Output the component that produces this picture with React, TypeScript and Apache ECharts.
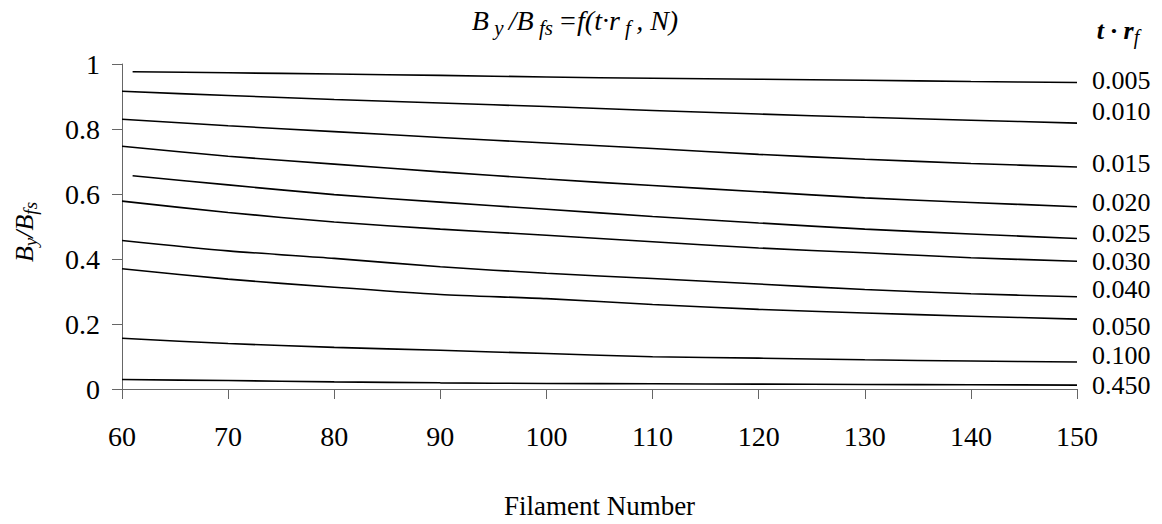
import React, { useEffect, useRef } from "react";
import * as echarts from "echarts";

// Filament number (x) values
const filamentN = [60, 70, 80, 90, 100, 110, 120, 130, 140, 150];
const filamentNLate = [61, 70, 80, 90, 100, 110, 120, 130, 140, 150];

// t·r_f series names
const seriesNames = ["0.005", "0.010", "0.015", "0.020", "0.025", "0.030", "0.040", "0.050", "0.100", "0.450"];

// By/Bfs values per series
const s005 = [0.976, 0.973, 0.969, 0.965, 0.960, 0.956, 0.953, 0.950, 0.946, 0.943];
const s010 = [0.916, 0.903, 0.891, 0.880, 0.869, 0.857, 0.846, 0.836, 0.827, 0.818];
const s015 = [0.830, 0.810, 0.792, 0.774, 0.757, 0.740, 0.722, 0.707, 0.694, 0.683];
const s020 = [0.747, 0.716, 0.692, 0.668, 0.646, 0.626, 0.607, 0.588, 0.574, 0.561];
const s025 = [0.656, 0.628, 0.598, 0.575, 0.553, 0.531, 0.511, 0.492, 0.477, 0.463];
const s030 = [0.578, 0.543, 0.514, 0.492, 0.473, 0.453, 0.434, 0.419, 0.404, 0.393];
const s040 = [0.457, 0.425, 0.402, 0.376, 0.356, 0.340, 0.323, 0.306, 0.293, 0.284];
const s050 = [0.370, 0.338, 0.313, 0.291, 0.278, 0.260, 0.245, 0.234, 0.224, 0.215];
const s100 = [0.156, 0.140, 0.128, 0.119, 0.109, 0.099, 0.095, 0.090, 0.086, 0.083];
const s450 = [0.029, 0.026, 0.022, 0.019, 0.017, 0.016, 0.015, 0.014, 0.013, 0.012];

const seriesValues = [s005, s010, s015, s020, s025, s030, s040, s050, s100, s450];
const seriesX = [filamentNLate, filamentN, filamentN, filamentN, filamentNLate, filamentN, filamentN, filamentN, filamentN, filamentN];

// Layout of the right-hand labels (pixel centre lines)
const labelYs = [80, 111, 163, 202, 233, 261, 289, 326, 355, 385];

const FONT = "Liberation Serif, Tinos, Times New Roman, serif";

export default function App() {
  const ref = useRef<HTMLDivElement>(null);

  useEffect(() => {
    if (!ref.current) return;
    const chart = echarts.init(ref.current, undefined, { renderer: "svg" });

    const series = seriesValues.map((vals, i) => ({
      type: "line",
      name: seriesNames[i],
      data: vals.map((v, j) => [seriesX[i][j], v]),
      smooth: 0.25,
      showSymbol: false,
      symbol: "none",
      lineStyle: { color: "#000", width: 1.6 },
      silent: true,
    }));

    const labelGraphics = seriesNames.map((n, i) => ({
      type: "text",
      x: 1092,
      y: labelYs[i],
      style: {
        text: n,
        fontFamily: FONT,
        fontSize: 26,
        fill: "#000",
        align: "left",
        verticalAlign: "middle",
      },
    }));

    chart.setOption({
      animation: false,
      backgroundColor: "#fff",
      textStyle: { fontFamily: FONT },
      grid: { left: 122, right: 85, top: 64, bottom: 131 },
      xAxis: {
        type: "value",
        min: 60,
        max: 150,
        interval: 10,
        axisLine: { show: true, lineStyle: { color: "#666", width: 1 } },
        axisTick: { show: true, length: 10, lineStyle: { color: "#666" } },
        axisLabel: { color: "#000", fontFamily: FONT, fontSize: 28, margin: 33 },
        splitLine: { show: false },
        name: "Filament Number",
        nameLocation: "middle",
        nameGap: 103,
        nameTextStyle: { color: "#000", fontFamily: FONT, fontSize: 27 },
      },
      yAxis: {
        type: "value",
        min: 0,
        max: 1,
        interval: 0.2,
        axisLine: { show: true, lineStyle: { color: "#666", width: 1 } },
        axisTick: { show: true, length: 10, lineStyle: { color: "#666" } },
        axisLabel: {
          color: "#000",
          fontFamily: FONT,
          fontSize: 28,
          margin: 22,
          formatter: (v: number) => String(Math.round(v * 10) / 10),
        },
        splitLine: { show: false },
      },
      graphic: [
        {
          type: "text",
          x: 575,
          y: 20,
          style: {
            text: "{i|B}{s| y }{i|/B}{s| fs }{i|=f(t·r}{s| f }{i|, N)}",
            align: "center",
            verticalAlign: "middle",
            rich: {
              i: { fontFamily: FONT, fontStyle: "italic", fontSize: 28, fill: "#000", lineHeight: 36, verticalAlign: "middle" },
              s: { fontFamily: FONT, fontStyle: "italic", fontSize: 21, fill: "#000", lineHeight: 36, verticalAlign: "bottom", padding: [12, 0, 0, 0] },
            },
          },
        },
        {
          type: "text",
          x: 1118,
          y: 30,
          style: {
            text: "{i|t · r}{s|f}",
            align: "center",
            verticalAlign: "middle",
            rich: {
              i: { fontFamily: FONT, fontStyle: "italic", fontWeight: "bold", fontSize: 26, fill: "#000", lineHeight: 34, verticalAlign: "middle" },
              s: { fontFamily: FONT, fontStyle: "italic", fontSize: 20, fill: "#000", lineHeight: 34, verticalAlign: "bottom", padding: [12, 0, 0, 0] },
            },
          },
        },
        {
          type: "text",
          x: 24,
          y: 232,
          rotation: Math.PI / 2,
          style: {
            text: "{i|B}{s|y}{i|/B}{s|fs}",
            align: "center",
            verticalAlign: "middle",
            rich: {
              i: { fontFamily: FONT, fontStyle: "italic", fontSize: 26, fill: "#000", lineHeight: 32, verticalAlign: "middle" },
              s: { fontFamily: FONT, fontStyle: "italic", fontSize: 19, fill: "#000", lineHeight: 32, verticalAlign: "bottom", padding: [9, 0, 0, 0] },
            },
          },
        },
        ...labelGraphics,
      ],
      series,
    });

    return () => chart.dispose();
  }, []);

  return (
    <div
      ref={ref}
      style={{ position: "fixed", left: 0, top: 0, width: 1162, height: 524, background: "#fff" }}
    />
  );
}
